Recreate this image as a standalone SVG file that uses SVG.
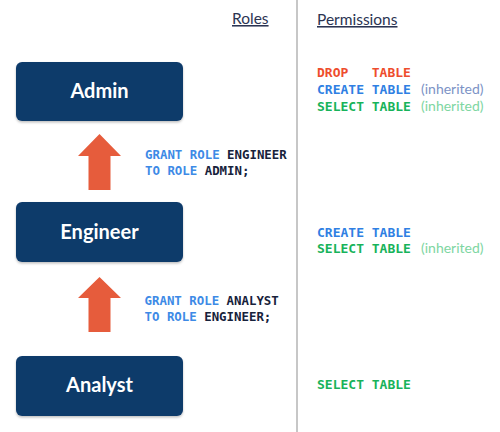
<svg xmlns="http://www.w3.org/2000/svg" width="500" height="432" viewBox="0 0 500 432">
<defs>
<filter id="sh" x="-10%" y="-10%" width="120%" height="130%">
<feDropShadow dx="0" dy="1.5" stdDeviation="1.2" flood-color="#000" flood-opacity="0.25"/>
</filter>
<style>
.box{fill:#0E3A6B;filter:url(#sh)}
.lbl{font-family:Lato,"Open Sans",sans-serif;font-weight:bold;font-size:20px;fill:#fff;text-anchor:middle}
.hdr{font-family:Lato,"Open Sans",sans-serif;font-size:15.5px;fill:#2B3452;text-decoration:underline}
.mono{font-family:"DejaVu Sans Mono",monospace;font-weight:bold}
.perm{font-size:13px}
.code{font-size:12.4px}
.kw{fill:#3D8AE6}
.id{fill:#17223B}
.red{fill:#EE4D2D}
.blue{fill:#2F7FE3}
.green{fill:#17B35A}
.inh{font-family:Lato,"Open Sans",sans-serif;font-size:14px;font-weight:normal}
.ib{fill:#7C93C6}
.ig{fill:#7ED6A2}
.arr{fill:#E65C3C}
</style>
</defs>
<line x1="297" y1="0" x2="297" y2="432" stroke="#B4B4B4" stroke-width="1.5"/>
<text class="hdr" x="232" y="24">Roles</text>
<text class="hdr" x="317" y="25">Permissions</text>

<g id="admin">
<rect class="box" x="16" y="62" width="167" height="59" rx="6"/>
<text class="lbl" x="99.5" y="98">Admin</text>
</g>
<g id="engineer">
<rect class="box" x="16" y="202" width="167" height="60" rx="6"/>
<text class="lbl" x="99.5" y="239">Engineer</text>
</g>
<g id="analyst">
<rect class="box" x="16" y="356" width="167" height="60" rx="6"/>
<text class="lbl" x="99.5" y="392">Analyst</text>
</g>

<g id="connectors">
<polygon class="arr" points="99.5,134 121,156 110.5,156 110.5,190 88.5,190 88.5,156 78,156"/>
<polygon class="arr" points="99.5,277 121,298 110.5,298 110.5,332 88.5,332 88.5,298 78,298"/>
</g>

<g id="grant1" class="mono code">
<text x="145" y="158.5"><tspan class="kw">GRANT ROLE</tspan><tspan class="id"> ENGINEER</tspan></text>
<text x="145" y="174.5"><tspan class="kw">TO ROLE</tspan><tspan class="id"> ADMIN;</tspan></text>
</g>
<g id="grant2" class="mono code">
<text x="144.5" y="305"><tspan class="kw">GRANT ROLE</tspan><tspan class="id"> ANALYST</tspan></text>
<text x="144.5" y="321"><tspan class="kw">TO ROLE</tspan><tspan class="id"> ENGINEER;</tspan></text>
</g>

<g id="perm-admin" class="mono perm">
<text class="red" x="317" y="77" xml:space="preserve">DROP   TABLE</text>
<text class="blue" x="317" y="94">CREATE TABLE<tspan class="inh ib" x="421">(inherited)</tspan></text>
<text class="green" x="317" y="111">SELECT TABLE<tspan class="inh ig" x="421">(inherited)</tspan></text>
</g>
<g id="perm-engineer" class="mono perm">
<text class="blue" x="317" y="237">CREATE TABLE</text>
<text class="green" x="317" y="253">SELECT TABLE<tspan class="inh ig" x="421">(inherited)</tspan></text>
</g>
<g id="perm-analyst" class="mono perm">
<text class="green" x="317" y="388.5">SELECT TABLE</text>
</g>
</svg>
